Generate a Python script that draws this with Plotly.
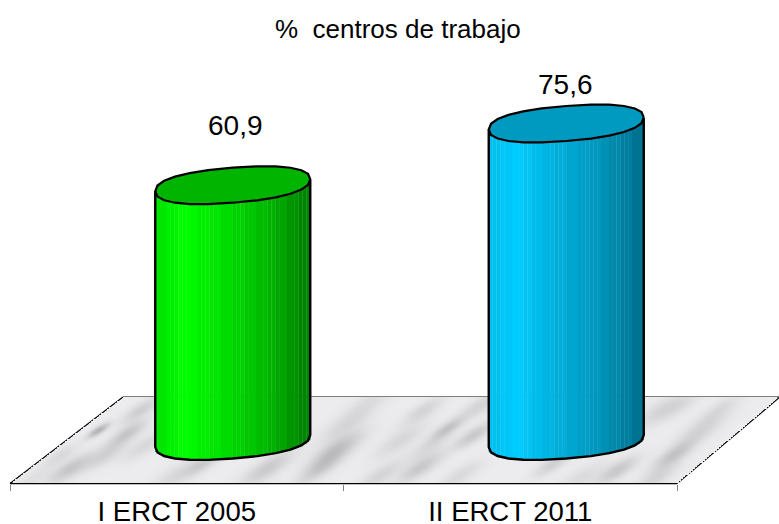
import numpy as np
import plotly.graph_objects as go

# ---- data ----
categories = ["I ERCT 2005", "II ERCT 2011"]
values = [60.9, 75.6]
value_labels = ["60,9", "75,6"]
title_text = "%  centros de trabajo"

# ---- style ----
W, H = 779, 524
FONT = "Liberation Sans"
PX_PER_UNIT_Y = 4.2
PX_PER_CAT = 333.5
ZERO_PX_Y = 441.0
AXIS_PX_Y = 483.5
LEFT_PX = 10.0
body_stops = [
    [(0.0, (0, 225, 0)), (0.2, (0, 255, 0)), (0.5, (0, 215, 0)), (0.8, (0, 170, 0)), (1.0, (0, 125, 0))],
    [(0.0, (0, 190, 235)), (0.17, (0, 204, 255)), (0.5, (0, 170, 212)), (0.8, (0, 140, 175)), (1.0, (0, 110, 140))],
]
cap_colors = ["#00b400", "#0099bf"]
label_shift_px = [60, 38.5]
label_dx_px = [3, -0.5]


def X(px):
    return -0.5 + (px - LEFT_PX) / PX_PER_CAT


def Y(py):
    return (ZERO_PX_Y - py) / PX_PER_UNIT_Y


DEPTH = 56 / PX_PER_CAT        # 3D shift of the cylinders from the category centre
HALF = 77.5 / PX_PER_CAT       # cylinder half width
B = 17.5 / PX_PER_UNIT_Y       # ellipse minor semi-axis
SHEAR = 6.0 / PX_PER_UNIT_Y    # ellipse tilt
POW = 0.85                     # boxier-than-ellipse outline


def ellipse(t):
    c, s = np.cos(t), np.sin(t)
    cp = np.sign(c) * np.abs(c) ** POW
    sp = np.sign(s) * np.abs(s) ** POW
    return HALF * cp, B * sp + SHEAR * cp


def lower_arc(dx):
    """Offset of the front (lower) edge of the outline at horizontal offset dx."""
    tt = np.linspace(np.pi, 2 * np.pi, 200)
    ax, ay = ellipse(tt)
    return np.interp(dx, ax, ay)


def interp_color(stops, f):
    xs = [s[0] for s in stops]
    rgb = [np.interp(f, xs, [s[1][k] for s in stops]) for k in range(3)]
    return "rgb(%d,%d,%d)" % tuple(int(round(v)) for v in rgb)


fig = go.Figure()

# ---- marble floor ----
gx = np.arange(0, W, 2.0)
gy = np.arange(396, 486, 2.0)
PX, PY = np.meshgrid(gx, gy)
marble = np.full(PX.shape, 236.0)
# blotches: (x, y, depth, length)
blotches = [
    (98, 430, 60, 12), (127, 433, 38, 22), (70, 468, 38, 26), (140, 410, 30, 22), (105, 455, 25, 24),
    (203, 463, 30, 22), (267, 468, 34, 30), (320, 468, 34, 26), (333, 450, 30, 28), (345, 425, 21, 30),
    (447, 428, 38, 18), (473, 435, 36, 22), (420, 467, 36, 26), (423, 410, 24, 24), (400, 440, 21, 30),
    (553, 463, 29, 22), (617, 470, 36, 24), (673, 455, 38, 24), (700, 430, 25, 30), (660, 410, 21, 30),
    (480, 405, 24, 26), (175, 475, 19, 30), (30, 480, 13, 22), (720, 408, 17, 24), (380, 475, 24, 26),
    (460, 475, 19, 26), (580, 478, 17, 30), (655, 478, 24, 26), (370, 400, 15, 30), (345, 445, 15, 30),
    (60, 455, 19, 20), (145, 445, 20, 26), (430, 445, 20, 24), (680, 405, 14, 26),
]
ca, sa = np.cos(np.radians(32)), np.sin(np.radians(32))
for bx, by, d, ln in blotches:
    u = (PX - bx) * ca - (PY - by) * sa
    v = (PX - bx) * sa + (PY - by) * ca
    marble -= d * np.exp(-(u / ln) ** 2 - (v / (ln * 0.3)) ** 2)
# clip to the floor parallelogram
t = (483.5 - PY) / (483.5 - 397)
inside = (PX >= 10 + 113 * t + 1) & (PX <= 677 + 102 * t) & (PY > 397) & (PY < 483.5)
marble[~inside] = np.nan
fig.add_trace(go.Heatmap(
    x=X(gx), y=Y(gy), z=marble, zmin=130, zmax=240, showscale=False, hoverinfo="skip",
    colorscale=[[0, "rgb(130,130,132)"], [1, "rgb(240,240,242)"]], zsmooth="best",
))

# ---- cylinders: bodies are bars cut into shaded strips ----
N = 40
BANDS = 14
for i, val in enumerate(values):
    centre = i + DEPTH
    edges = np.linspace(-HALF, HALF, N + 1)
    mids = (edges[:-1] + edges[1:]) / 2
    w = edges[1] - edges[0]
    base = lower_arc(mids)
    fr = (mids + HALF) / (2 * HALF)
    band = (np.floor(fr * BANDS) + 0.5) / BANDS
    fig.add_trace(go.Bar(
        x=centre + mids, y=[val] * N, base=base, width=w * 1.08,
        marker=dict(color=[interp_color(body_stops[i], f) for f in band], line=dict(width=0)),
        hoverinfo="skip", showlegend=False,
    ))
    # cap
    tt = np.linspace(0, 2 * np.pi, 25)
    ex, ey = ellipse(tt)
    fig.add_trace(go.Scatter(
        x=centre + ex, y=val + ey, mode="lines", fill="toself", fillcolor=cap_colors[i],
        line=dict(color="black", width=2.2), hoverinfo="skip", showlegend=False,
    ))
    # sides and front edge of the base
    tb = np.linspace(np.pi, 2 * np.pi, 13)
    bx, by = ellipse(tb)
    ox = [centre - HALF] + list(centre + bx) + [centre + HALF]
    oy = [val - SHEAR] + list(by) + [val + SHEAR]
    fig.add_trace(go.Scatter(
        x=ox, y=oy, mode="lines", line=dict(color="black", width=2.4),
        hoverinfo="skip", showlegend=False,
    ))

# ---- floor outline and axis line ----
fl = dict(type="line", xref="x", yref="y", layer="below", line=dict(color="black", width=1.2))
shapes = [
    dict(fl, x0=X(10), y0=Y(AXIS_PX_Y), x1=X(123), y1=Y(397)),
    dict(fl, x0=X(123), y0=Y(397), x1=X(779), y1=Y(397)),
    dict(fl, x0=X(677), y0=Y(AXIS_PX_Y), x1=X(780), y1=Y(397)),
    dict(fl, x0=X(10), y0=Y(AXIS_PX_Y), x1=X(677), y1=Y(AXIS_PX_Y), line=dict(color="black", width=1.6)),
]

annotations = [
    dict(text=title_text, xref="paper", yref="paper", x=398 / W, y=1 - 29 / H, showarrow=False,
         xanchor="center", yanchor="middle", font=dict(family=FONT, size=26, color="black")),
]
for i, val in enumerate(values):
    annotations.append(dict(
        text=value_labels[i], x=i + DEPTH, y=val, xshift=label_dx_px[i], yshift=label_shift_px[i],
        xref="x", yref="y", showarrow=False, xanchor="center", yanchor="middle",
        font=dict(family=FONT, size=28, color="black"),
    ))

fig.update_layout(
    width=W, height=H, margin=dict(l=0, r=0, t=0, b=0, autoexpand=False),
    paper_bgcolor="white", plot_bgcolor="white", barmode="overlay", showlegend=False,
    shapes=shapes, annotations=annotations,
    xaxis=dict(
        range=[X(0), X(W)], tickmode="array", tickvals=[0, 1], ticktext=categories,
        ticks="", showgrid=False, zeroline=False, showline=False, automargin=False,
        anchor="free", position=(H - AXIS_PX_Y) / H, ticklabelstandoff=9,
        tickfont=dict(family=FONT, size=27.5, color="black"),
        minor=dict(tickmode="array", tickvals=[-0.5, 0.5, 1.5], ticks="outside", ticklen=6,
                   tickcolor="#808080", tickwidth=1, showgrid=False),
    ),
    yaxis=dict(range=[Y(H), Y(0)], visible=False, showgrid=False, zeroline=False),
)

fig.write_html("out.html", config={"displayModeBar": False},
               post_script="document.body.style.margin='0';document.documentElement.style.overflow='hidden';")
